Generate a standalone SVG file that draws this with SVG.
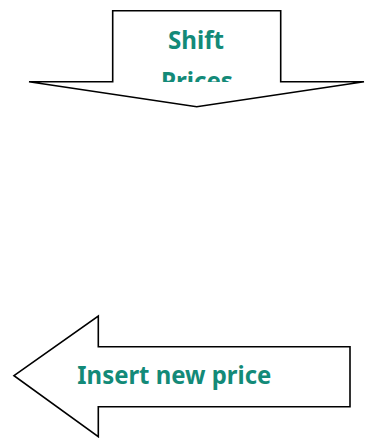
<svg xmlns="http://www.w3.org/2000/svg" width="366" height="439" viewBox="0 0 366 439">
  <style>
    .arrow { fill: #ffffff; stroke: #000000; stroke-width: 1.6; stroke-linejoin: miter; }
    .label { font-family: "Noto Sans", "Open Sans", "Liberation Sans", sans-serif; font-weight: bold; fill: #138a78; font-size: 25px; }
  </style>
  <defs>
    <clipPath id="shift-clip">
      <rect x="113" y="11" width="167" height="71"/>
    </clipPath>
  </defs>
  <rect width="366" height="439" fill="#ffffff"/>

  <g id="shift-prices">
    <polygon class="arrow" points="112.7,10.7 280.7,10.7 280.7,81.7 364,81.7 196.7,106.7 29,81.7 112.7,81.7"/>
    <g clip-path="url(#shift-clip)">
      <text class="label" x="196" y="48.5" text-anchor="middle" textLength="56" lengthAdjust="spacingAndGlyphs">Shift</text>
      <text class="label" x="197" y="90" text-anchor="middle" textLength="72" lengthAdjust="spacingAndGlyphs">Prices</text>
    </g>
  </g>

  <g id="insert-new-price">
    <polygon class="arrow" points="14,375.7 98.3,316 98.3,346.7 350,346.7 350,406.7 98.3,406.7 98.3,436.7"/>
    <text class="label" x="77.3" y="384" textLength="194" lengthAdjust="spacingAndGlyphs">Insert new price</text>
  </g>

  <g id="connectors"/>
</svg>
